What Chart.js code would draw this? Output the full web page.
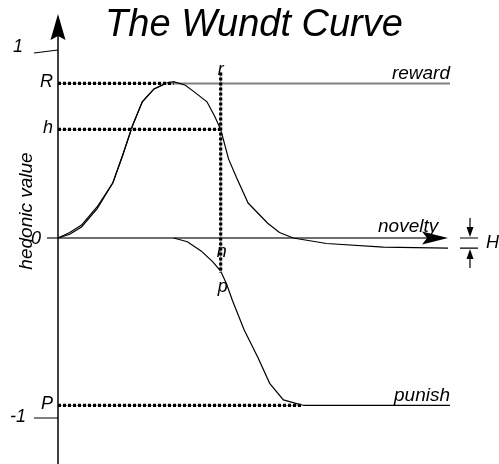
<!DOCTYPE html>
<html>
<head>
<meta charset="utf-8">
<title>The Wundt Curve</title>
<script src="https://cdn.jsdelivr.net/npm/chart.js@4.4.1/dist/chart.umd.min.js"></script>
<style>
  html, body { margin: 0; padding: 0; background: #fff; }
  #wrap { width: 499px; height: 464px; }
</style>
</head>
<body>
<div id="wrap"><canvas id="chart" width="499" height="464"></canvas></div>
<script>
// novelty runs 0..10 along the x axis, hedonic value -1..1 up the y axis
const noveltyX = [0, 0.3, 0.6, 1.0, 1.4, 1.65, 1.9, 2.15, 2.45, 2.75, 2.95, 3.25, 3.5, 3.8, 4.0, 4.15, 4.35, 4.55, 4.85, 5.35, 5.65, 6.0, 6.85, 8.3, 9.95];
const hedonicY = [0, 0.03, 0.07, 0.17, 0.30, 0.45, 0.61, 0.74, 0.81, 0.84, 0.85, 0.83, 0.79, 0.74, 0.66, 0.59, 0.43, 0.33, 0.19, 0.08, 0.03, 0.0, -0.03, -0.05, -0.055];

const rewardX = [0, 0.3, 0.6, 1.0, 1.4, 1.65, 1.9, 2.15, 2.45, 2.75, 2.95, 10];
const rewardY = [0, 0.02, 0.06, 0.16, 0.30, 0.45, 0.61, 0.74, 0.81, 0.84, 0.84, 0.84];

const punishX = [2.95, 3.3, 3.65, 3.95, 4.15, 4.3, 4.45, 4.75, 5.1, 5.4, 5.75, 6.25, 10];
const punishY = [0, -0.02, -0.07, -0.13, -0.18, -0.25, -0.34, -0.50, -0.65, -0.79, -0.88, -0.91, -0.91];

const levelNames = ['R', 'h', 'P'];
const levelValues = [0.84, 0.59, -0.91];
const levelEnds = [2.95, 4.15, 6.25];

const yTickLabels = ['1', '0', '-1'];
const yTickValues = [1, 0, -1];

const markX = 4.15;      // novelty level of the r / n / p marks
const markTop = 0.9;
const markBottom = -0.19;
const H = -0.055;        // where hedonic value settles for high novelty

const FONT = '"Liberation Sans", Arial, sans-serif';
const GRAY = '#6e6e6e';

const toPoints = (xs, ys) => xs.map((x, i) => ({ x, y: ys[i] }));

const curve = (data, extra) => Object.assign({
  data,
  borderColor: '#000',
  borderWidth: 1.2,
  pointRadius: 0,
  showLine: true,
  tension: 0,
  fill: false
}, extra);

const datasets = [];

// dotted guide lines: heavy black dots drawn over a thin gray line
const guide = pts => {
  datasets.push(curve(pts, { borderWidth: 3.2, borderDash: [3, 2], borderCapStyle: 'butt' }));
  datasets.push(curve(pts, { borderColor: '#9a9a9a', borderWidth: 1 }));
};
levelValues.forEach((v, i) => guide([{ x: 0, y: v }, { x: levelEnds[i], y: v }]));
guide([{ x: markX, y: markTop }, { x: markX, y: markBottom }]);

datasets.push(curve(toPoints(noveltyX, hedonicY)));
datasets.push(curve(toPoints(rewardX, rewardY), {
  segment: {
    borderColor: ctx => ctx.p0.parsed.y === ctx.p1.parsed.y ? '#808080' : '#000',
    borderWidth: ctx => ctx.p0.parsed.y === ctx.p1.parsed.y ? 2 : 1.2
  }
}));
datasets.push(curve(toPoints(punishX, punishY)));

const decor = {
  id: 'wundtDecor',
  beforeDatasetsDraw(chart) {
    const { ctx, scales: { x, y } } = chart;
    const px = v => x.getPixelForValue(v);
    const py = v => y.getPixelForValue(v);
    ctx.save();
    // novelty axis
    ctx.strokeStyle = GRAY;
    ctx.lineWidth = 2;
    ctx.beginPath();
    ctx.moveTo(px(-0.28), py(0));
    ctx.lineTo(px(9.6), py(0));
    ctx.stroke();
    // hedonic axis
    ctx.strokeStyle = '#000';
    ctx.lineWidth = 1.5;
    ctx.beginPath();
    ctx.moveTo(px(0), chart.height);
    ctx.lineTo(px(0), 30);
    ctx.stroke();
    ctx.restore();
  },
  afterDatasetsDraw(chart) {
    const { ctx, scales: { x, y } } = chart;
    const px = v => x.getPixelForValue(v);
    const py = v => y.getPixelForValue(v);
    const x0 = px(0), y0 = py(0);
    ctx.save();
    ctx.fillStyle = '#000';
    ctx.strokeStyle = '#000';

    // arrow heads
    const tipX = px(9.95);
    ctx.beginPath();
    ctx.moveTo(tipX, y0);
    ctx.lineTo(tipX - 26, y0 - 6.5);
    ctx.lineTo(tipX - 21, y0);
    ctx.lineTo(tipX - 26, y0 + 6.5);
    ctx.closePath();
    ctx.fill();
    ctx.beginPath();
    ctx.moveTo(x0, 14);
    ctx.lineTo(x0 + 7.5, 40);
    ctx.lineTo(x0, 36);
    ctx.lineTo(x0 - 7.5, 40);
    ctx.closePath();
    ctx.fill();

    // tick marks for 1 and -1
    ctx.lineWidth = 1.2;
    ctx.beginPath();
    ctx.moveTo(x0 - 24, py(1) - 1);
    ctx.lineTo(x0, py(1) - 4);
    ctx.moveTo(x0 - 24, py(-1) - 4);
    ctx.lineTo(x0, py(-1) - 4);
    ctx.stroke();

    ctx.font = 'italic 18px ' + FONT;
    ctx.textBaseline = 'middle';
    ctx.textAlign = 'right';
    const tickOffsets = [-7, 1, -5];
    const tickRight = [x0 - 35, x0 - 17, x0 - 32];
    yTickLabels.forEach((t, i) => ctx.fillText(t, tickRight[i], py(yTickValues[i]) + tickOffsets[i]));
    levelNames.forEach((t, i) => ctx.fillText(t, x0 - 5, py(levelValues[i]) - 1));

    // r, n, p marks
    ctx.textAlign = 'center';
    ctx.textBaseline = 'alphabetic';
    ctx.fillText('r', px(markX), py(markTop) + 3);
    ctx.fillText('n', px(markX) + 1, y0 + 19);
    ctx.fillText('p', px(markX) + 2, py(markBottom) + 19);

    // curve names
    ctx.font = 'italic 19px ' + FONT;
    ctx.textAlign = 'right';
    ctx.fillText('reward', px(10), py(levelValues[0]) - 4);
    ctx.fillText('punish', px(10), py(levelValues[2]) - 4);
    ctx.textAlign = 'left';
    ctx.fillText('novelty', 378, y0 - 6);

    // H indicator
    const hx = 470, yH = py(H);
    ctx.lineWidth = 1.2;
    ctx.beginPath();
    ctx.moveTo(hx - 10, y0); ctx.lineTo(hx + 8, y0);
    ctx.moveTo(hx - 10, yH); ctx.lineTo(hx + 8, yH);
    ctx.moveTo(hx, y0 - 20); ctx.lineTo(hx, y0 - 6);
    ctx.moveTo(hx, yH + 6); ctx.lineTo(hx, yH + 20);
    ctx.stroke();
    ctx.beginPath();
    ctx.moveTo(hx, y0 - 1); ctx.lineTo(hx - 3.5, y0 - 11); ctx.lineTo(hx + 3.5, y0 - 11); ctx.closePath();
    ctx.moveTo(hx, yH + 1); ctx.lineTo(hx - 3.5, yH + 11); ctx.lineTo(hx + 3.5, yH + 11); ctx.closePath();
    ctx.fill();
    ctx.font = 'italic 18px ' + FONT;
    ctx.textBaseline = 'middle';
    ctx.fillText('H', 486, (y0 + yH) / 2);

    // axis title
    ctx.font = 'italic 19px ' + FONT;
    ctx.textAlign = 'center';
    ctx.textBaseline = 'alphabetic';
    ctx.translate(32, 211);
    ctx.rotate(-Math.PI / 2);
    ctx.fillText('hedonic value', 0, 0);
    ctx.restore();

    // chart title
    ctx.save();
    ctx.font = 'italic 38px ' + FONT;
    ctx.fillStyle = '#000';
    ctx.textAlign = 'center';
    ctx.fillText('The Wundt Curve', 254, 36);
    ctx.restore();
  }
};

new Chart(document.getElementById('chart'), {
  type: 'scatter',
  data: { datasets },
  options: {
    responsive: false,
    animation: false,
    layout: { padding: 0 },
    plugins: { legend: { display: false }, tooltip: { enabled: false }, title: { display: false } },
    scales: {
      x: { type: 'linear', min: -58 / 39.2, max: (499 - 58) / 39.2, display: false },
      y: { type: 'linear', min: -(464 - 238) / 184, max: 238 / 184, display: false }
    }
  },
  plugins: [decor]
});
</script>
</body>
</html>
